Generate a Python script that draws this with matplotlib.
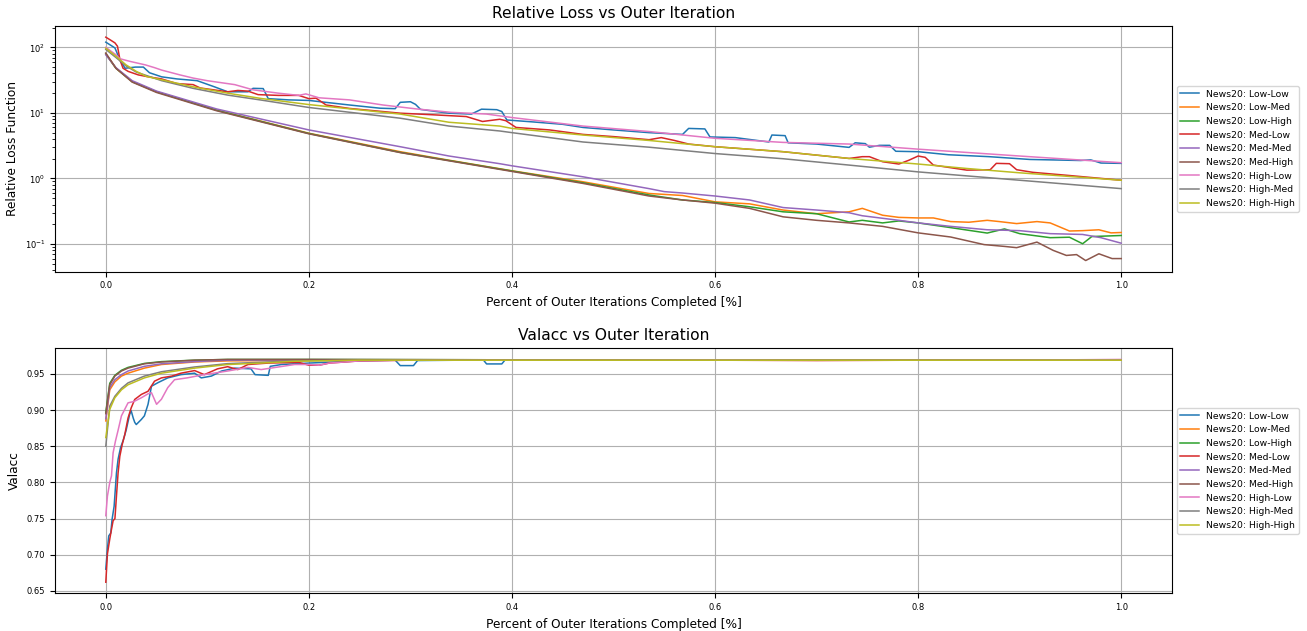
import numpy as np
import matplotlib
matplotlib.use("Agg")
import matplotlib.pyplot as plt

labels = ["News20: Low-Low", "News20: Low-Med", "News20: Low-High",
          "News20: Med-Low", "News20: Med-Med", "News20: Med-High",
          "News20: High-Low", "News20: High-Med", "News20: High-High"]

# ---- relative loss ----
loss_ll_x = [0, 0.009, 0.014, 0.019, 0.029, 0.037, 0.043, 0.055, 0.07, 0.09, 0.107, 0.12, 0.14, 0.145,
             0.155, 0.16, 0.18, 0.2, 0.24, 0.27, 0.285, 0.29, 0.3, 0.305, 0.31, 0.338, 0.36, 0.37, 0.385,
             0.39, 0.395, 0.42, 0.45, 0.47, 0.5, 0.535, 0.568, 0.574, 0.59, 0.595, 0.62, 0.653, 0.656,
             0.669, 0.672, 0.7, 0.732, 0.738, 0.748, 0.752, 0.762, 0.772, 0.778, 0.8, 0.83, 0.87, 0.91,
             0.96, 0.97, 0.98, 1.0]
loss_ll = [120, 98, 64, 48, 50, 50, 41, 35.5, 33, 31, 25, 21, 21, 23.7,
           23.5, 16.5, 15.8, 15.5, 13.2, 11.8, 11.6, 14.5, 14.8, 13.5, 11.3, 9.9, 9.6, 11.4, 11.2,
           10.5, 7.8, 7.3, 6.7, 6.0, 5.5, 5.0, 4.7, 5.8, 5.7, 4.3, 4.2, 3.6, 4.6,
           4.5, 3.5, 3.35, 2.98, 3.5, 3.4, 3.0, 3.2, 3.2, 2.6, 2.56, 2.3, 2.15, 1.95,
           1.88, 1.92, 1.72, 1.70]

loss_lm_x = [0, 0.01, 0.026, 0.05, 0.109, 0.2, 0.29, 0.338, 0.4, 0.47, 0.535, 0.568, 0.6, 0.634, 0.667,
             0.7, 0.732, 0.745, 0.765, 0.781, 0.8, 0.815, 0.832, 0.85, 0.868, 0.88, 0.897, 0.917,
             0.93, 0.949, 0.962, 0.978, 0.99, 1.0]
loss_lm = [80, 48, 30, 21, 11.1, 4.9, 2.56, 1.9, 1.31, 0.89, 0.59, 0.55, 0.44, 0.41, 0.33,
           0.29, 0.31, 0.35, 0.275, 0.255, 0.25, 0.25, 0.22, 0.215, 0.23, 0.22, 0.205, 0.22,
           0.21, 0.158, 0.16, 0.165, 0.148, 0.15]

loss_lh_x = [0, 0.01, 0.026, 0.05, 0.109, 0.2, 0.29, 0.338, 0.4, 0.47, 0.535, 0.568, 0.6, 0.634, 0.667,
             0.7, 0.732, 0.745, 0.765, 0.781, 0.8, 0.832, 0.868, 0.885, 0.9, 0.93, 0.949, 0.962,
             0.971, 1.0]
loss_lh = [79, 48, 30, 21, 11.0, 4.85, 2.5, 1.88, 1.3, 0.86, 0.56, 0.47, 0.43, 0.37, 0.31,
           0.29, 0.217, 0.23, 0.21, 0.225, 0.21, 0.178, 0.147, 0.17, 0.144, 0.125, 0.127, 0.101,
           0.13, 0.135]

loss_ml_x = [0, 0.004, 0.009, 0.0115, 0.014, 0.017, 0.022, 0.032, 0.042, 0.055, 0.07, 0.086, 0.093,
             0.12, 0.13, 0.14, 0.15, 0.17, 0.19, 0.2, 0.207, 0.217, 0.24, 0.29, 0.32, 0.355, 0.371,
             0.388, 0.394, 0.404, 0.437, 0.47, 0.5, 0.535, 0.547, 0.56, 0.574, 0.6, 0.667, 0.732,
             0.745, 0.752, 0.765, 0.781, 0.791, 0.8, 0.807, 0.815, 0.848, 0.871, 0.877, 0.89,
             0.897, 0.913, 0.946, 1.0]
loss_ml = [143, 131, 117, 104, 64, 48, 43, 38, 35.5, 33, 28, 27, 24,
           21, 22, 21.5, 19, 18.5, 18.5, 16.5, 16.8, 13.2, 11.7, 9.9, 9.4, 8.8, 7.4,
           8.0, 7.6, 6.0, 5.5, 4.7, 4.35, 3.9, 4.2, 3.8, 3.35, 3.05, 2.56, 2.02,
           2.15, 2.15, 1.8, 1.66, 1.9, 2.2, 2.1, 1.6, 1.34, 1.36, 1.7, 1.68,
           1.36, 1.24, 1.12, 0.94]

loss_mm_x = [0, 0.01, 0.026, 0.05, 0.109, 0.2, 0.29, 0.338, 0.388, 0.4, 0.47, 0.535, 0.55, 0.568, 0.6,
             0.634, 0.667, 0.7, 0.732, 0.745, 0.781, 0.8, 0.832, 0.868, 0.9, 0.93, 0.962, 0.98, 1.0]
loss_mm = [77, 49, 31, 21.5, 11.5, 5.5, 3.05, 2.2, 1.68, 1.56, 1.06, 0.70, 0.63, 0.6, 0.54,
           0.47, 0.36, 0.33, 0.30, 0.27, 0.23, 0.21, 0.186, 0.165, 0.16, 0.144, 0.14, 0.125, 0.103]

loss_mh_x = [0, 0.01, 0.026, 0.05, 0.109, 0.2, 0.29, 0.338, 0.4, 0.47, 0.535, 0.568, 0.6, 0.634, 0.667,
             0.7, 0.732, 0.765, 0.8, 0.832, 0.865, 0.885, 0.897, 0.917, 0.933, 0.946, 0.956, 0.965,
             0.978, 0.991, 1.0]
loss_mh = [82, 48, 29.5, 20.5, 10.8, 4.8, 2.48, 1.86, 1.28, 0.84, 0.54, 0.47, 0.42, 0.35, 0.26,
           0.23, 0.21, 0.186, 0.148, 0.128, 0.098, 0.092, 0.088, 0.107, 0.08, 0.067, 0.069, 0.056,
           0.071, 0.06, 0.06]

loss_hl_x = [0, 0.01, 0.014, 0.024, 0.039, 0.048, 0.055, 0.073, 0.086, 0.1, 0.127, 0.145, 0.17, 0.19,
             0.197, 0.21, 0.24, 0.273, 0.306, 0.34, 0.375, 0.4, 0.47, 0.535, 0.6, 0.667, 0.732, 0.8,
             0.9, 1.0]
loss_hl = [100, 77, 67, 61, 54, 49, 45, 38, 34, 31, 27, 22.5, 20, 18.5,
           19.5, 17, 15.8, 13.2, 11.5, 10.2, 9.6, 8.5, 6.3, 5.2, 4.1, 3.55, 3.35, 2.8,
           2.2, 1.74]

loss_hm_x = [0, 0.01, 0.02, 0.03, 0.055, 0.086, 0.12, 0.153, 0.2, 0.29, 0.338, 0.388, 0.4, 0.47, 0.535,
             0.6, 0.667, 0.732, 0.8, 0.9, 1.0]
loss_hm = [93, 70, 52, 42, 31, 23.7, 18.7, 15.7, 12.1, 8.3, 6.3, 5.3, 5.0, 3.6, 3.0,
           2.4, 2.0, 1.6, 1.26, 0.94, 0.70]

loss_hh_x = [0, 0.01, 0.02, 0.03, 0.04, 0.055, 0.086, 0.12, 0.153, 0.2, 0.29, 0.338, 0.388, 0.4, 0.47,
             0.535, 0.6, 0.667, 0.732, 0.8, 0.848, 0.9, 1.0]
loss_hh = [97, 73, 54, 43, 36, 32, 25, 20, 16.6, 13.4, 9.6, 7.2, 6.3, 5.8, 4.6,
           3.8, 3.05, 2.56, 2.02, 1.66, 1.42, 1.22, 0.94]

# ---- validation accuracy ----
acc_ll_x = [0, 0.0016, 0.0029, 0.0049, 0.0062, 0.0082, 0.0095, 0.0105, 0.0121, 0.0145, 0.0171, 0.02,
            0.0235, 0.025, 0.027, 0.0285, 0.030, 0.035, 0.038, 0.0416, 0.045, 0.0515, 0.061, 0.074,
            0.0875, 0.094, 0.104, 0.114, 0.127, 0.143, 0.147, 0.16, 0.162, 0.173, 0.2, 0.25, 0.285,
            0.29, 0.303, 0.307, 0.35, 0.372, 0.375, 0.39, 0.393, 0.45, 0.55, 0.6, 0.7, 0.8, 0.9, 1.0]
acc_ll = [0.68, 0.708, 0.726, 0.73, 0.749, 0.767, 0.793, 0.813, 0.832, 0.848, 0.858, 0.872,
          0.894, 0.899, 0.889, 0.883, 0.880, 0.887, 0.892, 0.908, 0.933, 0.938, 0.9445, 0.949,
          0.951, 0.9445, 0.947, 0.954, 0.958, 0.957, 0.949, 0.948, 0.9605, 0.963, 0.965, 0.968, 0.969,
          0.9615, 0.9615, 0.9685, 0.969, 0.969, 0.9638, 0.9638, 0.969, 0.9695, 0.9695, 0.969,
          0.969, 0.9695, 0.969, 0.969]

acc_lm_x = [0, 0.0039, 0.0089, 0.0154, 0.0219, 0.038, 0.0548, 0.0875, 0.12, 0.2, 0.4, 0.6, 0.8, 1.0]
acc_lm = [0.885, 0.928, 0.939, 0.947, 0.951, 0.958, 0.963, 0.9665, 0.968, 0.969, 0.969, 0.969, 0.969, 0.969]

acc_lh_x = [0, 0.0039, 0.0089, 0.0154, 0.0219, 0.038, 0.0548, 0.0875, 0.12, 0.2, 0.4, 0.6, 0.8, 1.0]
acc_lh = [0.897, 0.937, 0.948, 0.955, 0.959, 0.9645, 0.967, 0.969, 0.970, 0.970, 0.9695, 0.969, 0.969, 0.969]

acc_ml_x = [0, 0.0016, 0.0039, 0.0056, 0.0072, 0.0090, 0.0105, 0.0121, 0.0138, 0.0161, 0.0187, 0.0219,
            0.025, 0.0285, 0.035, 0.0416, 0.048, 0.0548, 0.065, 0.074, 0.0875, 0.097, 0.11, 0.12, 0.13,
            0.14, 0.16, 0.19, 0.2, 0.21, 0.22, 0.25, 0.3, 0.4, 0.5, 0.6, 0.7, 0.8, 0.9, 1.0]
acc_ml = [0.662, 0.701, 0.7216, 0.735, 0.747, 0.75, 0.781, 0.813, 0.836, 0.852, 0.866, 0.889,
          0.903, 0.9147, 0.9216, 0.926, 0.94, 0.9445, 0.947, 0.951, 0.9546, 0.949, 0.957, 0.96, 0.956,
          0.963, 0.965, 0.966, 0.962, 0.962, 0.965, 0.968, 0.969, 0.969, 0.9695, 0.969, 0.9685,
          0.969, 0.969, 0.9695]

acc_mm_x = [0, 0.0039, 0.0089, 0.0154, 0.0219, 0.038, 0.0548, 0.0875, 0.12, 0.2, 0.4, 0.6, 0.8, 1.0]
acc_mm = [0.888, 0.931, 0.942, 0.949, 0.954, 0.9605, 0.964, 0.967, 0.969, 0.9695, 0.969, 0.969, 0.969, 0.969]

acc_mh_x = [0, 0.0039, 0.0089, 0.0154, 0.0219, 0.038, 0.0548, 0.0875, 0.12, 0.2, 0.4, 0.6, 0.8, 1.0]
acc_mh = [0.895, 0.935, 0.947, 0.954, 0.958, 0.964, 0.9665, 0.969, 0.970, 0.970, 0.9695, 0.969, 0.969, 0.969]

acc_hl_x = [0, 0.0016, 0.0039, 0.0056, 0.0072, 0.0095, 0.0121, 0.0154, 0.0219, 0.028, 0.035, 0.0416,
            0.045, 0.05, 0.0548, 0.061, 0.0677, 0.08, 0.097, 0.12, 0.14, 0.153, 0.186, 0.2, 0.21, 0.22,
            0.25, 0.3, 0.4, 0.5, 0.6, 0.7, 0.8, 0.9, 1.0]
acc_hl = [0.754, 0.781, 0.80, 0.809, 0.841, 0.857, 0.872, 0.892, 0.910, 0.912, 0.917, 0.9225,
          0.924, 0.908, 0.915, 0.931, 0.942, 0.9445, 0.949, 0.954, 0.959, 0.956, 0.963, 0.963, 0.962,
          0.965, 0.968, 0.969, 0.969, 0.969, 0.9695, 0.969, 0.969, 0.969, 0.970]

acc_hm_x = [0, 0.0039, 0.0089, 0.0154, 0.0219, 0.038, 0.0548, 0.0875, 0.12, 0.186, 0.25, 0.4, 0.6, 0.8, 1.0]
acc_hm = [0.850, 0.9055, 0.919, 0.93, 0.9376, 0.947, 0.953, 0.9596, 0.9642, 0.968, 0.969, 0.969, 0.969,
          0.969, 0.969]

acc_hh_x = [0, 0.0039, 0.0089, 0.0154, 0.0219, 0.038, 0.0548, 0.0875, 0.12, 0.153, 0.186, 0.25, 0.4,
            0.6, 0.8, 1.0]
acc_hh = [0.862, 0.901, 0.917, 0.928, 0.935, 0.9445, 0.951, 0.958, 0.963, 0.965, 0.9675, 0.969, 0.969,
          0.969, 0.969, 0.969]

loss_series = [(loss_ll_x, loss_ll), (loss_lm_x, loss_lm), (loss_lh_x, loss_lh),
               (loss_ml_x, loss_ml), (loss_mm_x, loss_mm), (loss_mh_x, loss_mh),
               (loss_hl_x, loss_hl), (loss_hm_x, loss_hm), (loss_hh_x, loss_hh)]
acc_series = [(acc_ll_x, acc_ll), (acc_lm_x, acc_lm), (acc_lh_x, acc_lh),
              (acc_ml_x, acc_ml), (acc_mm_x, acc_mm), (acc_mh_x, acc_mh),
              (acc_hl_x, acc_hl), (acc_hm_x, acc_hm), (acc_hh_x, acc_hh)]

fig = plt.figure(figsize=(13.07, 6.31), dpi=100)
ax1 = fig.add_axes([0.0421, 0.5694, 0.8546, 0.3894])
ax2 = fig.add_axes([0.0421, 0.0597, 0.8546, 0.3883])

for (x, y), lab in zip(loss_series, labels):
    ax1.plot(x, y, lw=1.1, label=lab)
ax1.set_yscale("log")
ax1.set_title("Relative Loss vs Outer Iteration", fontsize=11.2)
ax1.set_xlabel("Percent of Outer Iterations Completed [%]", fontsize=8.7)
ax1.set_ylabel("Relative Loss Function", fontsize=8.7)

for (x, y), lab in zip(acc_series, labels):
    ax2.plot(x, y, lw=1.1, label=lab)
ax2.set_title("Valacc vs Outer Iteration", fontsize=11.2)
ax2.set_xlabel("Percent of Outer Iterations Completed [%]", fontsize=8.7)
ax2.set_ylabel("Valacc", fontsize=8.7)

for ax in (ax1, ax2):
    ax.grid(True)
    ax.tick_params(labelsize=6)
    ax.legend(loc="center left", bbox_to_anchor=(1.0, 0.5), fontsize=6.7)

fig.savefig("out.png", dpi=100)
